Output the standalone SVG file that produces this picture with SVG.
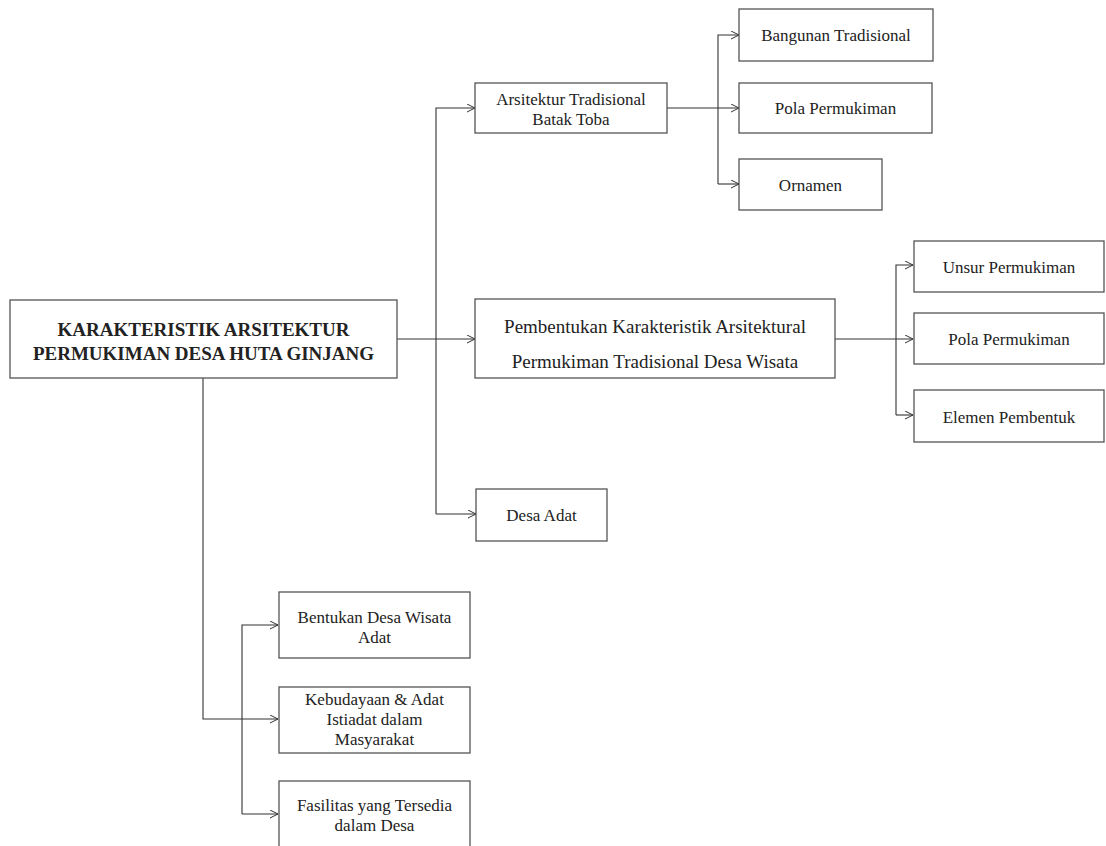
<svg xmlns="http://www.w3.org/2000/svg" width="1106" height="846" viewBox="0 0 1106 846">
<defs>
<marker id="arr" markerWidth="10" markerHeight="10" refX="8" refY="4" orient="auto" markerUnits="userSpaceOnUse">
<path d="M0,0 L8,4 L0,8" fill="none" stroke="#333" stroke-width="1"/>
</marker>
<style>
.box{fill:#fff;stroke:#555;stroke-width:1.3}
.t{font-family:"Liberation Serif","Times New Roman",serif;font-size:17px;fill:#222;text-anchor:middle}
.m{font-size:19px}
.b{font-family:"Liberation Serif","Times New Roman",serif;font-size:19px;font-weight:bold;fill:#222;text-anchor:middle}
.c{fill:none;stroke:#333;stroke-width:1.1}
</style>
</defs>
<rect width="1106" height="846" fill="#fff"/>
<g id="connectors">
<path class="c" d="M397,339 H475" marker-end="url(#arr)"/>
<path class="c" d="M436,514 V108 H475" marker-end="url(#arr)"/>
<path class="c" d="M436,514 H476" marker-end="url(#arr)"/>
<path class="c" d="M667,108 H739" marker-end="url(#arr)"/>
<path class="c" d="M718,184 V35 H739" marker-end="url(#arr)"/>
<path class="c" d="M718,184 H739" marker-end="url(#arr)"/>
<path class="c" d="M835,339 H913" marker-end="url(#arr)"/>
<path class="c" d="M896,415 V265 H913" marker-end="url(#arr)"/>
<path class="c" d="M896,415 H913" marker-end="url(#arr)"/>
<path class="c" d="M203,378 V719 H278" marker-end="url(#arr)"/>
<path class="c" d="M242,814 V625 H278" marker-end="url(#arr)"/>
<path class="c" d="M242,814 H278" marker-end="url(#arr)"/>
</g>
<g id="main">
<rect class="box" x="10" y="300" width="387" height="78"/>
<text class="b" x="203.5" y="336">KARAKTERISTIK ARSITEKTUR</text>
<text class="b" x="203.5" y="360">PERMUKIMAN DESA HUTA GINJANG</text>
</g>
<g id="arsitektur">
<rect class="box" x="475" y="83" width="192" height="50"/>
<text class="t" x="571" y="105">Arsitektur  Tradisional</text>
<text class="t" x="571" y="125">Batak  Toba</text>
</g>
<g id="bangunan">
<rect class="box" x="739" y="9" width="194" height="52"/>
<text class="t" x="836" y="41">Bangunan  Tradisional</text>
</g>
<g id="pola1">
<rect class="box" x="739" y="83" width="193" height="50"/>
<text class="t" x="835.5" y="114">Pola Permukiman</text>
</g>
<g id="ornamen">
<rect class="box" x="739" y="159" width="143" height="51"/>
<text class="t" x="810.5" y="191">Ornamen</text>
</g>
<g id="pembentukan">
<rect class="box" x="475" y="299" width="360" height="79"/>
<text class="t m" x="655" y="333">Pembentukan Karakteristik Arsitektural</text>
<text class="t m" x="655" y="368">Permukiman Tradisional  Desa Wisata</text>
</g>
<g id="unsur">
<rect class="box" x="914" y="241" width="190" height="51"/>
<text class="t" x="1009" y="273">Unsur Permukiman</text>
</g>
<g id="pola2">
<rect class="box" x="914" y="313" width="190" height="51"/>
<text class="t" x="1009" y="345">Pola Permukiman</text>
</g>
<g id="elemen">
<rect class="box" x="914" y="390" width="190" height="52"/>
<text class="t" x="1009" y="423">Elemen  Pembentuk</text>
</g>
<g id="desaadat">
<rect class="box" x="476" y="489" width="131" height="52"/>
<text class="t" x="541.5" y="521">Desa Adat</text>
</g>
<g id="bentukan">
<rect class="box" x="279" y="592" width="191" height="66"/>
<text class="t" x="374.5" y="623">Bentukan Desa Wisata</text>
<text class="t" x="374.5" y="643">Adat</text>
</g>
<g id="kebudayaan">
<rect class="box" x="279" y="687" width="191" height="66"/>
<text class="t" x="374.5" y="705">Kebudayaan  &amp; Adat</text>
<text class="t" x="374.5" y="725">Istiadat  dalam</text>
<text class="t" x="374.5" y="745">Masyarakat</text>
</g>
<g id="fasilitas">
<rect class="box" x="279" y="781" width="191" height="80"/>
<text class="t" x="374.5" y="811">Fasilitas yang Tersedia</text>
<text class="t" x="374.5" y="831">dalam Desa</text>
</g>
</svg>
